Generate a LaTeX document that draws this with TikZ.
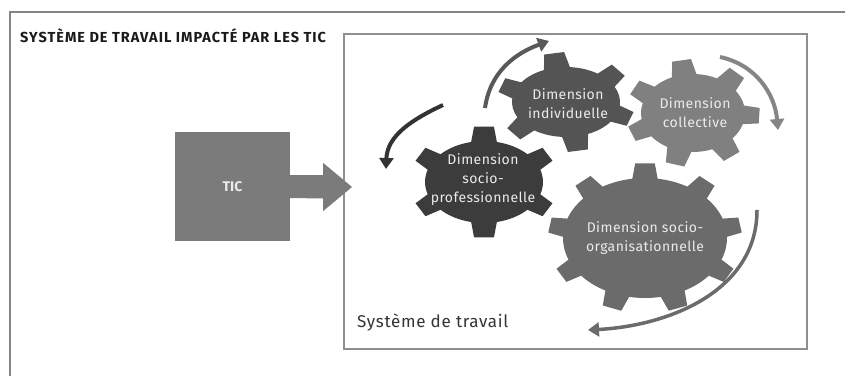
\documentclass[tikz,border=0pt]{standalone}
\usepackage{fontspec}
\setmainfont{Fira Sans}
\usepackage{tikz}
\usetikzlibrary{arrows.meta, positioning, calc}

\definecolor{framegray}{HTML}{858585}
\definecolor{boxgray}{HTML}{8F8F8F}
\definecolor{ticgray}{HTML}{7B7B7B}
\definecolor{gearpro}{HTML}{3C3C3C}
\definecolor{gearind}{HTML}{545454}
\definecolor{gearcol}{HTML}{808080}
\definecolor{gearorg}{HTML}{6B6B6B}
\definecolor{labelgray}{HTML}{EBEBEB}

% gear: centre, x radius, y radius, teeth, first tooth angle, colour
\newcommand{\gearshape}[6]{%
  \begin{scope}[shift={#1}]
    \pgfmathsetmacro{\gstep}{360/#4}
    \pgfmathsetmacro{\gb}{1260/(#2+#3)}
    \pgfmathsetmacro{\gt}{1000/(#2+#3+30)}
    \pgfmathsetmacro{\gxo}{#2+15}
    \pgfmathsetmacro{\gyo}{#3+15}
    \pgfmathtruncatemacro{\glast}{#4-1}
    \fill[#6] ({#5-\gstep/2}:#2pt and #3pt)
      \foreach \k in {0,...,\glast} {
        arc[start angle={#5+\k*\gstep-\gstep/2}, end angle={#5+\k*\gstep-\gb}, x radius=#2pt, y radius=#3pt]
        -- ({#5+\k*\gstep-\gt}:\gxo pt and \gyo pt)
        -- ({#5+\k*\gstep+\gt}:\gxo pt and \gyo pt)
        -- ({#5+\k*\gstep+\gb}:#2pt and #3pt)
        arc[start angle={#5+\k*\gstep+\gb}, end angle={#5+\k*\gstep+\gstep/2}, x radius=#2pt, y radius=#3pt]
      } -- cycle;
  \end{scope}}

\begin{document}
\begin{tikzpicture}[x=1pt, y=1pt,
    gearlabel/.style={text=labelgray, align=center, font=\fontsize{14}{19}\selectfont\addfontfeature{LetterSpace=3}},
    cyc/.style={line width=4pt, -{Triangle[length=11pt, width=14pt]}}]

		\useasboundingbox (0,0) rectangle (845,376);

		% Outer frame
		\draw[framegray, line width=2pt] (10,0) -- (10,364) -- (845,364);
		\node[anchor=base west, inner sep=0, font=\fontsize{14.5}{16}\selectfont\bfseries\addfontfeature{LetterSpace=7}, text=black!90] (title) at (20,334) {SYSTÈME DE TRAVAIL IMPACTÉ PAR LES TIC};

		% Work system box
		\draw[boxgray, line width=1.5pt] (344,27) rectangle (807,342);
		\node[anchor=base west, inner sep=0, font=\fontsize{17}{20}\selectfont\addfontfeature{LetterSpace=4}, text=black!80] (systeme) at (357,49) {Système de travail};

		% TIC block and arrow
		\node[fill=ticgray, minimum width=115, minimum height=109, inner sep=0, text=labelgray, font=\fontsize{14}{16}\selectfont\bfseries] (tic) at (232.5,189.5) {TIC};
		\coordinate (tictip) at (352,189);
		\fill[ticgray] ([yshift=11.5]tic.east) -- ++(33,0) -- ++(0,12) -- (tictip) -- ([xshift=33, yshift=-24.5]tic.east) -- ++(0,12.5) -- ([yshift=-11.5]tic.east) -- cycle;

		% Gears
		\coordinate (corg) at (645,138);
		\coordinate (ccol) at (693,263);
		\coordinate (cind) at (566,274);
		\coordinate (cpro) at (484,194);
		\gearshape{(corg)}{82}{60}{9}{90}{gearorg}
		\gearshape{(ccol)}{52}{39}{7}{100}{gearcol}
		\gearshape{(cind)}{54}{35}{6}{100}{gearind}
		\gearshape{(cpro)}{59}{41}{6}{90}{gearpro}

		\node[gearlabel] (socioorg) at (645,137.5) {Dimension socio-\\organisationnelle};
		\node[gearlabel] (collect) at (695,263.5) {Dimension\\collective};
		\node[gearlabel] (indiv) at (568,272) {Dimension\\individuelle};
		\node[gearlabel] (sociopro) at (483,196) {Dimension\\socio-\\professionnelle};

		% Rotation arrows
		\coordinate (a1) at (443,271);
		\coordinate (a2) at (386,207);
		\coordinate (b1) at (485,268);
		\coordinate (b2) at (549,335);
		\coordinate (c1) at (720,319);
		\coordinate (c2) at (778,246);
		\coordinate (d1) at (757,166);
		\coordinate (d2) at (588,46);
		\draw[cyc, black!80] (a1) to[out=205, in=88] (a2);
		\draw[cyc, black!65] (b1) to[out=82, in=200] (b2);
		\draw[cyc, black!48] (c1) to[out=-12, in=95] (c2);
		\draw[cyc, line width=3.5pt, black!58] (d1) to[out=-90, in=3] (d2);

	\end{tikzpicture}
\end{document}
